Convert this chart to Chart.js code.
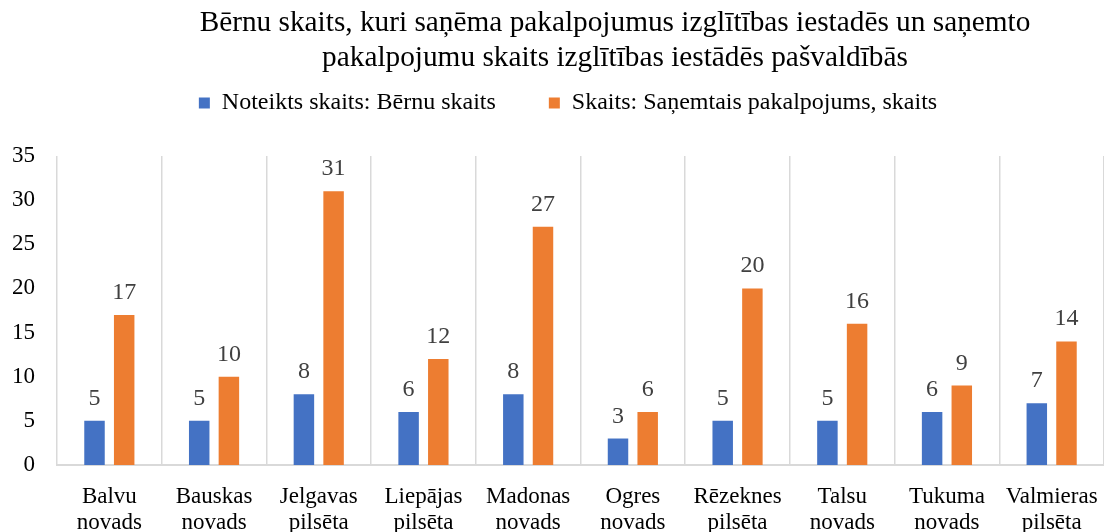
<!DOCTYPE html>
<html>
<head>
<meta charset="utf-8">
<script src="https://cdn.jsdelivr.net/npm/chart.js@4"></script>
<style>
html,body{margin:0;padding:0;background:#fff;}
#wrap{width:1104px;height:532px;position:relative;}
</style>
</head>
<body>
<div id="wrap"><canvas id="c" width="1104" height="532"></canvas></div>
<script>
const titleLines = ["Bērnu skaits, kuri saņēma pakalpojumus izglītības iestadēs un saņemto", "pakalpojumu skaits izglītības iestādēs pašvaldībās"];
const categories = [["Balvu","novads"],["Bauskas","novads"],["Jelgavas","pilsēta"],["Liepājas","pilsēta"],["Madonas","novads"],["Ogres","novads"],["Rēzeknes","pilsēta"],["Talsu","novads"],["Tukuma","novads"],["Valmieras","pilsēta"]];
const seriesNames = ["Noteikts skaits: Bērnu skaits", "Skaits: Saņemtais pakalpojums, skaits"];
const childrenCount = [5,5,8,6,8,3,5,5,6,7];
const servicesCount = [17,10,31,12,27,6,20,16,9,14];
const yTicks = [0,5,10,15,20,25,30,35];

const FONT = "'Liberation Serif', 'Times New Roman', serif";

const titlePlugin = {
  id: 'customTitle',
  afterDraw(chart) {
    const ctx = chart.ctx;
    ctx.save();
    ctx.font = "29.3px " + FONT;
    ctx.fillStyle = "#000";
    ctx.textAlign = "center";
    ctx.textBaseline = "middle";
    ctx.fillText(titleLines[0], 615, 23);
    ctx.fillText(titleLines[1], 615, 58);
    ctx.restore();
  }
};

const labelPlugin = {
  id: 'valueLabels',
  afterDatasetsDraw(chart) {
    const ctx = chart.ctx;
    ctx.save();
    ctx.font = "24px " + FONT;
    ctx.fillStyle = "#404040";
    ctx.textAlign = "center";
    ctx.textBaseline = "alphabetic";
    chart.data.datasets.forEach((ds, i) => {
      const meta = chart.getDatasetMeta(i);
      meta.data.forEach((bar, j) => {
        ctx.fillText(String(ds.data[j]), bar.x, bar.y - 16);
      });
    });
    ctx.restore();
  }
};

const legendMargin = {
  id: 'legendMargin',
  beforeInit(chart) {
    const fit = chart.legend.fit;
    chart.legend.fit = function() {
      fit.bind(chart.legend)();
      this.height += 31;
    };
  },
  afterLayout(chart) {
    chart.legend.left += 16;
    chart.legend.right += 16;
  }
};

new Chart(document.getElementById('c'), {
  type: 'bar',
  data: {
    labels: categories,
    datasets: [
      { label: seriesNames[0], data: childrenCount, backgroundColor: '#4472C4', categoryPercentage: 0.567, barPercentage: 0.69 },
      { label: seriesNames[1], data: servicesCount, backgroundColor: '#ED7D31', categoryPercentage: 0.567, barPercentage: 0.69 }
    ]
  },
  options: {
    responsive: false,
    animation: false,
    devicePixelRatio: 1,
    layout: { padding: { top: 38, left: 0, right: 0, bottom: 0 } },
    plugins: {
      title: { display: false },
      tooltip: { enabled: false },
      legend: {
        display: true,
        position: 'top',
        labels: {
          font: { family: FONT, size: 24 },
          color: '#000',
          boxWidth: 11,
          boxHeight: 11,
          padding: 53
        }
      }
    },
    scales: {
      x: {
        afterFit(scale) { scale.height = 67; scale.paddingLeft = 0; scale.paddingRight = 0; },
        grid: { display: true, color: '#d9d9d9', lineWidth: 1.5, drawTicks: false, offset: true },
        border: { display: true, color: '#d9d9d9', width: 2 },
        ticks: { color: '#000', font: { family: FONT, size: 23, lineHeight: 1.13 }, padding: 19, maxRotation: 0, autoSkip: false }
      },
      y: {
        min: 0, max: 35,
        afterBuildTicks(scale) { scale.ticks = yTicks.map(v => ({ value: v })); },
        afterFit(scale) { scale.width = 57; },
        grid: { display: false },
        border: { display: false },
        ticks: { color: '#000', font: { family: FONT, size: 23 }, padding: 14 }
      }
    }
  },
  plugins: [titlePlugin, labelPlugin, legendMargin]
});
</script>
</body>
</html>
